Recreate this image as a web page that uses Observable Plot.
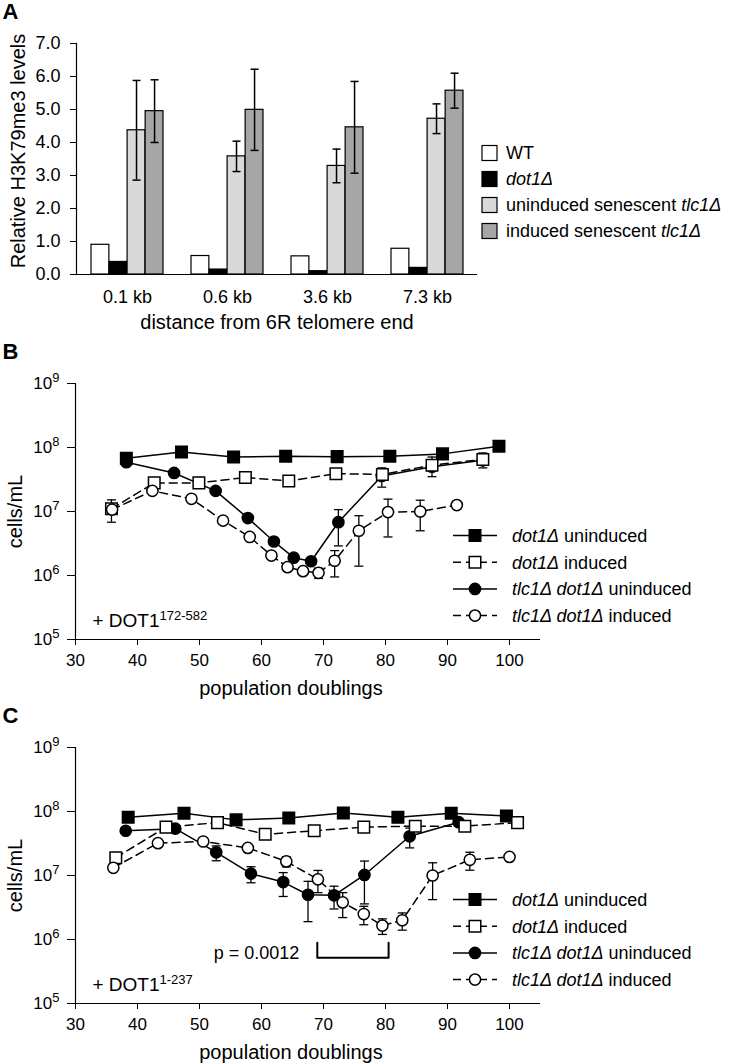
<!DOCTYPE html>
<html>
<head>
<meta charset="utf-8">
<script src="https://cdn.jsdelivr.net/npm/d3@7"></script>
<script src="https://cdn.jsdelivr.net/npm/@observablehq/plot@0.6"></script>
<style>
  body { margin: 0; background: #fff; }
  #fig { position: relative; width: 736px; height: 1064px; font-family: "Liberation Sans", Arial, Helvetica, sans-serif; }
  #fig svg { position: absolute; left: 0; overflow: visible; }
</style>
</head>
<body>
<div id="fig"></div>
<script>
// ================= DATA =================
// Panel A: relative H3K79me3 levels
const distances = ["0.1 kb", "0.6 kb", "3.6 kb", "7.3 kb"];
const wtLevels = [0.90, 0.56, 0.55, 0.78];
const dot1Levels = [0.38, 0.15, 0.10, 0.20];
const uninducedLevels = [4.37, 3.58, 3.29, 4.72];
const uninducedErr = [1.51, 0.46, 0.51, 0.45];
const inducedLevels = [4.95, 4.99, 4.46, 5.57];
const inducedErr = [0.95, 1.23, 1.39, 0.53];
const levelTicks = [0, 1, 2, 3, 4, 5, 6, 7];
const barLegend = [
  [["WT", 0]],
  [["dot1Δ", 1]],
  [["uninduced senescent ", 0], ["tlc1Δ", 1]],
  [["induced senescent ", 0], ["tlc1Δ", 1]]
];

// Panel B: + DOT1 172-582
const bDot1UnindPD = [38.2, 47.1, 55.5, 63.9, 72.2, 80.7, 89.2, 98.3];
const bDot1UnindCells = [6.8e7, 8.5e7, 7.1e7, 7.3e7, 7.2e7, 7.3e7, 7.95e7, 1.05e8];
const bDot1UnindErr = [null, null, null, null, null, null, null, null];
const bDot1IndPD = [35.8, 42.7, 49.9, 57.4, 64.4, 72.0, 79.5, 87.5, 95.7];
const bDot1IndCells = [1.1e7, 2.8e7, 2.8e7, 3.4e7, 3.0e7, 3.9e7, 3.8e7, 5.3e7, 6.5e7];
const bDot1IndErr = [4.2e6, null, null, null, null, null, null, 1.8e7, 1.7e7];
const bTlcUnindPD = [38.2, 45.9, 52.6, 57.8, 62.0, 65.2, 68.0, 72.4, 79.4, 87.5, 95.7];
const bTlcUnindCells = [5.9e7, 4.0e7, 2.1e7, 7.9e6, 3.4e6, 1.9e6, 1.67e6, 6.8e6, 3.6e7, 5.0e7, 6.3e7];
const bTlcUnindErr = [null, null, null, null, null, null, null, 3.9e6, 1.2e7, null, null];
const bTlcIndPD = [35.9, 42.4, 48.7, 53.8, 58.1, 61.6, 64.2, 66.7, 69.2, 71.8, 75.7, 80.4, 85.6, 91.5];
const bTlcIndCells = [1.07e7, 2.1e7, 1.58e7, 7.2e6, 4.0e6, 2.05e6, 1.35e6, 1.17e6, 1.1e6, 1.7e6, 5.0e6, 9.8e6, 1.0e7, 1.26e7];
const bTlcIndErr = [null, null, null, null, null, null, null, null, 2e5, 7.5e5, 3.6e6, 5.8e6, 5e6, 1.5e6];
const bNote = "+ DOT1^172-582";

// Panel C: + DOT1 1-237
const cDot1UnindPD = [38.5, 47.5, 55.9, 64.4, 73.2, 82.0, 90.6, 99.5];
const cDot1UnindCells = [8.1e7, 9.4e7, 7.4e7, 7.9e7, 9.5e7, 8.1e7, 9.4e7, 8.5e7];
const cDot1UnindErr = [null, 1.2e7, null, null, null, null, null, null];
const cDot1IndPD = [36.5, 44.6, 52.9, 60.6, 68.5, 76.5, 84.8, 92.8, 101.3];
const cDot1IndCells = [1.9e7, 5.7e7, 6.7e7, 4.4e7, 5.0e7, 5.7e7, 5.9e7, 5.9e7, 6.7e7];
const cDot1IndErr = [null, null, null, null, null, null, null, null, null];
const cTlcUnindPD = [38.1, 46.1, 52.7, 58.3, 63.5, 67.5, 71.7, 76.6, 83.9, 91.8];
const cTlcUnindCells = [5.0e7, 5.4e7, 2.3e7, 1.07e7, 7.9e6, 5.0e6, 4.9e6, 1.02e7, 4.1e7, 6.8e7];
const cTlcUnindErr = [null, null, 6e6, 3e6, 3.2e6, 3.1e6, 1.9e6, 6.6e6, 1.4e7, null];
const cTlcIndPD = [36.1, 43.3, 50.6, 57.8, 64.0, 69.1, 73.1, 76.5, 79.5, 82.7, 87.6, 93.6, 100.0];
const cTlcIndCells = [1.32e7, 3.2e7, 3.4e7, 2.7e7, 1.66e7, 8.7e6, 3.8e6, 2.5e6, 1.65e6, 2.0e6, 1.0e7, 1.76e7, 1.95e7];
const cTlcIndErr = [null, null, null, null, 3e6, 3.3e6, 1.6e6, 8e5, 4.5e5, 6e5, 5.8e6, 5.5e6, null];
const cNote = "+ DOT1^1-237";
const cBracketPD = [69.0, 69.0, 80.5, 80.5];
const cBracketCells = [8.9e5, 5.2e5, 5.2e5, 8.9e5];
const cPText = "p = 0.0012";

const doublingTicks = [30, 40, 50, 60, 70, 80, 90, 100];
const cellTicks = [1e5, 1e6, 1e7, 1e8, 1e9];
const growthLegend = [
  [["dot1Δ", 1], [" uninduced", 0]],
  [["dot1Δ", 1], [" induced", 0]],
  [["tlc1Δ dot1Δ", 1], [" uninduced", 0]],
  [["tlc1Δ dot1Δ", 1], [" induced", 0]]
];

// ================= HELPERS =================
const FONT = '"Liberation Sans", Arial, Helvetica, sans-serif';
const fig = document.getElementById("fig");
const capSymbol = { draw(ctx) { ctx.moveTo(-4.5, 0); ctx.lineTo(4.5, 0); } };
const capSymbolA = { draw(ctx) { ctx.moveTo(-4, 0); ctx.lineTo(4, 0); } };

function supers(svg, size, rise) {
  svg.querySelectorAll("text").forEach(el => {
    if (el.querySelector("tspan")) return;
    const s = el.textContent;
    const k = s.indexOf("^");
    if (k < 0) return;
    el.textContent = s.slice(0, k);
    const ts = document.createElementNS("http://www.w3.org/2000/svg", "tspan");
    ts.setAttribute("dy", rise);
    ts.setAttribute("font-size", size);
    ts.textContent = s.slice(k + 1);
    el.appendChild(ts);
  });
}
function addParts(sel, parts) {
  parts.forEach(([str, it]) => sel.append("tspan").attr("font-style", it ? "italic" : "normal").text(str));
}
function place(svg, top) { svg.style.top = top + "px"; fig.appendChild(svg); }

// ================= PANEL A =================
{
  const W = 736, H = 340, mL = 76, mR = 259, mT = 43, mB = 66;
  const pI = 0.28, pO = 0.14;
  const step = (W - mL - mR) / (distances.length - pI + 2 * pO);
  const band = step * (1 - pI);
  const bw = band / 4;
  const seriesVals = [wtLevels, dot1Levels, uninducedLevels, inducedLevels];
  const seriesErr = [null, null, uninducedErr, inducedErr];
  const fills = ["#ffffff", "#000000", "#d9d9d9", "#a6a6a6"];
  const marks = [];
  seriesVals.forEach((vals, i) => {
    const rows = distances.map((cat, j) => ({ cat, v: vals[j] }));
    marks.push(Plot.barY(rows, { x: "cat", y: "v", fill: fills[i], stroke: "black", strokeWidth: 1.2, insetLeft: i * bw, insetRight: (3 - i) * bw }));
  });
  seriesVals.forEach((vals, i) => {
    if (!seriesErr[i]) return;
    const rows = distances.map((cat, j) => ({ cat, v: vals[j], e: seriesErr[i][j] }));
    const dx = (i + 0.5) * bw - band / 2;
    marks.push(Plot.ruleX(rows, { x: "cat", y1: d => d.v - d.e, y2: d => d.v + d.e, dx, stroke: "black", strokeWidth: 1.5 }));
    marks.push(Plot.dot(rows, { x: "cat", y: d => d.v + d.e, dx, symbol: capSymbolA, fill: "none", stroke: "black", strokeWidth: 1.5 }));
    marks.push(Plot.dot(rows, { x: "cat", y: d => d.v - d.e, dx, symbol: capSymbolA, fill: "none", stroke: "black", strokeWidth: 1.5 }));
  });
  marks.push(Plot.ruleY([0], { stroke: "black", strokeWidth: 1.2 }));
  marks.push(Plot.frame({ anchor: "left", stroke: "black", strokeWidth: 1.2 }));
  marks.push(Plot.axisY({ ticks: levelTicks, tickFormat: d => d.toFixed(1), tickSize: 6, tickPadding: 10, fontSize: 18, label: null }));
  marks.push(Plot.axisX({ tickSize: 0, tickPadding: 16, fontSize: 18, label: null }));
  marks.push(Plot.text(["distance from 6R telomere end"], { text: d => d, frameAnchor: "bottom", dy: 54, textAnchor: "middle", lineAnchor: "bottom", fontSize: 20 }));
  marks.push(Plot.text(["Relative H3K79me3 levels"], { text: d => d, frameAnchor: "left", rotate: -90, dx: -58, dy: -8, textAnchor: "middle", lineAnchor: "middle", fontSize: 20 }));
  marks.push(Plot.text(["A"], { text: d => d, frameAnchor: "top-left", dx: 2 - mL, dy: 18 - mT, textAnchor: "start", lineAnchor: "bottom", fontSize: 22, fontWeight: "bold" }));
  const svg = Plot.plot({
    width: W, height: H, marginLeft: mL, marginRight: mR, marginTop: mT, marginBottom: mB,
    style: { fontFamily: FONT, fontSize: "18px", color: "black", background: "transparent", overflow: "visible" },
    x: { type: "band", domain: distances, paddingInner: pI, paddingOuter: pO, label: null },
    y: { domain: [0, 7], label: null },
    marks
  });
  const g = d3.select(svg).append("g").attr("font-family", FONT).attr("font-size", 18).attr("text-anchor", "start");
  barLegend.forEach((parts, i) => {
    const cy = 153 + 26 * i;
    g.append("rect").attr("x", 482).attr("y", cy - 7.5).attr("width", 15).attr("height", 15)
      .attr("fill", fills[i]).attr("stroke", "black").attr("stroke-width", 1.2);
    addParts(g.append("text").attr("x", 506).attr("y", cy).attr("dy", "0.35em").attr("text-anchor", "start"), parts);
  });
  place(svg, 0);
}

// ================= PANELS B & C =================
const seriesStyle = [
  { symbol: "square", r: 6.5, fill: "black", dash: null },
  { symbol: "square", r: 6.5, fill: "white", dash: "8,5" },
  { symbol: "circle", r: 5.6, fill: "black", dash: null },
  { symbol: "circle", r: 5.6, fill: "white", dash: "8,5" }
];
function zip(pd, cells, err) { return pd.map((x, i) => ({ pd: x, cells: cells[i], err: err[i] })); }

function growthPanel({ top, H, mB, letter, series, note, extra }) {
  const W = 736, mL = 75, mR = 196, mT = 43;
  const marks = [];
  [0, 2, 1, 3].forEach(si => {
    const rows = series[si];
    const st = seriesStyle[si];
    marks.push(Plot.line(rows, { x: "pd", y: "cells", stroke: "black", strokeWidth: 1.5, strokeDasharray: st.dash || undefined }));
    const er = rows.filter(d => d.err != null);
    marks.push(Plot.ruleX(er, { x: "pd", y1: d => d.cells - d.err, y2: d => d.cells + d.err, stroke: "black", strokeWidth: 1.3 }));
    marks.push(Plot.dot(er, { x: "pd", y: d => d.cells + d.err, symbol: capSymbol, fill: "none", stroke: "black", strokeWidth: 1.3 }));
    marks.push(Plot.dot(er, { x: "pd", y: d => d.cells - d.err, symbol: capSymbol, fill: "none", stroke: "black", strokeWidth: 1.3 }));
    marks.push(Plot.dot(rows, { x: "pd", y: "cells", symbol: st.symbol, r: st.r, fill: st.fill, stroke: "black", strokeWidth: 1.5 }));
  });
  if (extra) marks.push(...extra);
  marks.push(Plot.ruleX([30], { stroke: "black", strokeWidth: 1.2 }));
  marks.push(Plot.ruleY([1e5], { stroke: "black", strokeWidth: 1.2 }));
  marks.push(Plot.axisX({ ticks: doublingTicks, tickSize: 6, tickPadding: 8, fontSize: 17, label: null }));
  marks.push(Plot.axisY({ ticks: cellTicks, tickSize: 8, tickPadding: 8, fontSize: 17, label: null, tickFormat: d => "10^" + Math.round(Math.log10(d)) }));
  marks.push(Plot.text(["population doublings"], { text: d => d, frameAnchor: "bottom", dx: -17, dy: 55, textAnchor: "middle", lineAnchor: "bottom", fontSize: 20 }));
  marks.push(Plot.text(["cells/mL"], { text: d => d, frameAnchor: "left", rotate: -90, dx: -60, textAnchor: "middle", lineAnchor: "middle", fontSize: 20 }));
  marks.push(Plot.text([note], { text: d => d, frameAnchor: "bottom-left", dx: 17, dy: -13, textAnchor: "start", lineAnchor: "bottom", fontSize: 19 }));
  marks.push(Plot.text([letter], { text: d => d, frameAnchor: "top-left", dx: 2 - mL, dy: 18 - mT, textAnchor: "start", lineAnchor: "bottom", fontSize: 22, fontWeight: "bold" }));
  const svg = Plot.plot({
    width: W, height: H, marginLeft: mL, marginRight: mR, marginTop: mT, marginBottom: mB,
    style: { fontFamily: FONT, fontSize: "17px", color: "black", background: "transparent", overflow: "visible" },
    x: { domain: [30, 105], label: null },
    y: { type: "log", domain: [1e5, 1e9], label: null },
    marks
  });
  supers(svg, 13, -7);
  const g = d3.select(svg).append("g").attr("font-family", FONT).attr("font-size", 18).attr("text-anchor", "start");
  growthLegend.forEach((parts, i) => {
    const cy = 195.5 + 26.7 * i;
    const st = seriesStyle[i];
    g.append("line").attr("x1", 453).attr("x2", 497).attr("y1", cy).attr("y2", cy)
      .attr("stroke", "black").attr("stroke-width", 1.5).attr("stroke-dasharray", st.dash);
    g.append("path").attr("transform", `translate(475,${cy})`)
      .attr("d", d3.symbol(st.symbol === "square" ? d3.symbolSquare : d3.symbolCircle, Math.PI * st.r * st.r)())
      .attr("fill", st.fill).attr("stroke", "black").attr("stroke-width", 1.5);
    addParts(g.append("text").attr("x", 512).attr("y", cy).attr("dy", "0.35em").attr("text-anchor", "start"), parts);
  });
  place(svg, top);
}

growthPanel({
  top: 340, H: 364, mB: 65, letter: "B", note: bNote,
  series: [
    zip(bDot1UnindPD, bDot1UnindCells, bDot1UnindErr),
    zip(bDot1IndPD, bDot1IndCells, bDot1IndErr),
    zip(bTlcUnindPD, bTlcUnindCells, bTlcUnindErr),
    zip(bTlcIndPD, bTlcIndCells, bTlcIndErr)
  ]
});

const bracketRows = cBracketPD.map((x, i) => ({ pd: x, cells: cBracketCells[i] }));
growthPanel({
  top: 704, H: 360, mB: 61, letter: "C", note: cNote,
  series: [
    zip(cDot1UnindPD, cDot1UnindCells, cDot1UnindErr),
    zip(cDot1IndPD, cDot1IndCells, cDot1IndErr),
    zip(cTlcUnindPD, cTlcUnindCells, cTlcUnindErr),
    zip(cTlcIndPD, cTlcIndCells, cTlcIndErr)
  ],
  extra: [
    Plot.line(bracketRows, { x: "pd", y: "cells", stroke: "black", strokeWidth: 2 }),
    Plot.text([cPText], { text: d => d, frameAnchor: "bottom-left", dx: 181, dy: -45, textAnchor: "middle", lineAnchor: "bottom", fontSize: 18 })
  ]
});
</script>
</body>
</html>
